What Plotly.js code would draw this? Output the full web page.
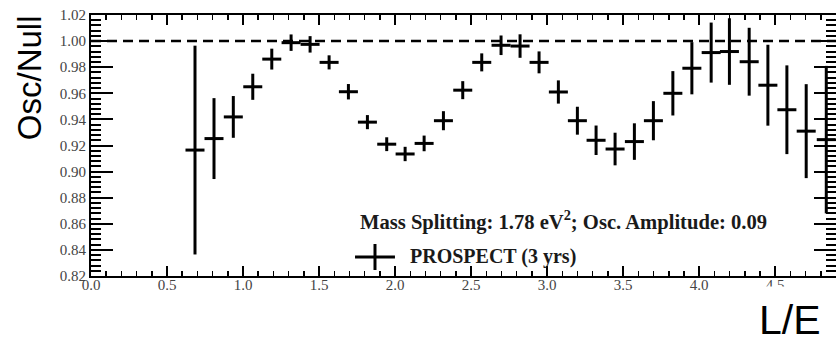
<!DOCTYPE html>
<html>
<head>
<meta charset="utf-8">
<script src="https://cdn.plot.ly/plotly-3.0.1.min.js"></script>
<style>
  html, body { margin: 0; padding: 0; background: #fff; }
  #chart { width: 836px; height: 338px; }
</style>
</head>
<body>
<div id="chart"></div>
<script>
// L/E bin centres
const lOverE = [0.684, 0.809, 0.936, 1.064, 1.189, 1.316, 1.441, 1.566, 1.693, 1.818,
                1.945, 2.066, 2.191, 2.318, 2.445, 2.570, 2.697, 2.822, 2.947, 3.074,
                3.199, 3.322, 3.447, 3.574, 3.699, 3.827, 3.952, 4.079, 4.199, 4.329,
                4.452, 4.577, 4.704, 4.836];
// Oscillated / null ratio in each bin
const ratio = [0.9165, 0.9253, 0.9419, 0.9650, 0.9862, 0.9988, 0.9975, 0.9837, 0.9612, 0.9379,
               0.9210, 0.9135, 0.9216, 0.9390, 0.9624, 0.9837, 0.9968, 0.9962, 0.9837, 0.9610,
               0.9390, 0.9240, 0.9173, 0.9230, 0.9390, 0.9600, 0.9792, 0.9912, 0.9920, 0.9842,
               0.9662, 0.9474, 0.9310, 0.9245];
// Statistical uncertainty on the ratio
const ratioErr = [0.080, 0.031, 0.016, 0.010, 0.008, 0.0063, 0.0063, 0.0054, 0.0059, 0.0054,
                  0.0053, 0.0055, 0.0060, 0.0073, 0.0069, 0.0069, 0.0075, 0.0090, 0.0084, 0.0089,
                  0.0107, 0.0113, 0.0125, 0.0140, 0.0150, 0.0170, 0.0200, 0.0230, 0.0255, 0.0260,
                  0.0310, 0.0340, 0.0360, 0.0565];
// Half bin width
const binHalfWidth = 0.0625;

const nullRatio = 1.0;
const yTicks = [0.82, 0.84, 0.86, 0.88, 0.90, 0.92, 0.94, 0.96, 0.98, 1.00, 1.02];
const xTicks = [0.0, 0.5, 1.0, 1.5, 2.0, 2.5, 3.0, 3.5, 4.0, 4.5];

const fitLabel = 'Mass Splitting: 1.78 eV<sup>2</sup>; Osc. Amplitude: 0.09';
const seriesLabel = 'PROSPECT (3 yrs)';

const serif = '"Liberation Serif", "Times New Roman", serif';
const sans = '"Liberation Sans", Arial, sans-serif';

const trace = {
  type: 'scatter',
  mode: 'markers',
  x: lOverE,
  y: ratio,
  marker: { size: 1, color: '#000' },
  error_y: { type: 'data', array: ratioErr, visible: true, color: '#000', thickness: 3, width: 0 },
  error_x: { type: 'data', array: lOverE.map(() => binHalfWidth), visible: true, color: '#000', thickness: 3, width: 0 },
  showlegend: false,
  hoverinfo: 'skip'
};

const layout = {
  width: 836,
  height: 338,
  margin: { l: 91, r: 0, t: 15, b: 62 },
  paper_bgcolor: '#fff',
  plot_bgcolor: '#fff',
  showlegend: false,
  xaxis: {
    range: [0, 4.9],
    tickvals: xTicks,
    ticktext: xTicks.map(v => v.toFixed(1)),
    ticks: 'inside',
    ticklen: 10,
    tickwidth: 1.5,
    tickcolor: '#000',
    ticklabelstandoff: -6,
    minor: { dtick: 0.1, ticks: 'inside', ticklen: 5, tickwidth: 1.5, tickcolor: '#000', showgrid: false },
    showline: true,
    linecolor: '#000',
    linewidth: 2,
    mirror: 'ticks',
    showgrid: false,
    zeroline: false,
    tickfont: { family: serif, size: 15, color: '#444' }
  },
  yaxis: {
    range: [0.82, 1.02],
    tickvals: yTicks,
    ticktext: yTicks.map(v => v.toFixed(2)),
    ticks: 'inside',
    ticklen: 22,
    tickwidth: 2,
    tickcolor: '#000',
    minor: { dtick: 0.004, ticks: 'inside', ticklen: 10, tickwidth: 2, tickcolor: '#000', showgrid: false },
    showline: true,
    linecolor: '#000',
    linewidth: 2,
    mirror: 'ticks',
    showgrid: false,
    zeroline: false,
    tickfont: { family: serif, size: 15, color: '#444' }
  },
  shapes: [
    // no-oscillation reference
    { type: 'line', xref: 'paper', yref: 'y', x0: 0, x1: 1, y0: nullRatio, y1: nullRatio,
      line: { color: '#000', width: 2.5, dash: '10px,6px' } },
    // legend glyph
    { type: 'line', xref: 'paper', yref: 'paper', x0: 0.3544, x1: 0.408, y0: 0.0728, y1: 0.0728,
      line: { color: '#000', width: 3 } },
    { type: 'line', xref: 'paper', yref: 'paper', x0: 0.3812, x1: 0.3812, y0: 0.023, y1: 0.1226,
      line: { color: '#000', width: 3 } }
  ],
  annotations: [
    { text: fitLabel, xref: 'paper', yref: 'paper', x: 0.6336, y: 0.212,
      xanchor: 'center', yanchor: 'middle', showarrow: false,
      font: { family: serif, size: 20.6, color: '#1a1a1a', weight: 'bold' } },
    { text: seriesLabel, xref: 'paper', yref: 'paper', x: 0.4255, y: 0.074,
      xanchor: 'left', yanchor: 'middle', showarrow: false,
      font: { family: serif, size: 20, color: '#1a1a1a', weight: 'bold' } },
    { text: 'Osc/Null', xref: 'paper', yref: 'paper', x: -0.083, y: 0.7586,
      xanchor: 'center', yanchor: 'middle', textangle: -90, showarrow: false,
      font: { family: sans, size: 33, color: '#000' } },
    { text: 'L/E', xref: 'paper', yref: 'paper', x: 0.938, y: -0.17,
      xanchor: 'center', yanchor: 'middle', showarrow: false,
      bgcolor: '#fff', borderpad: 10,
      font: { family: sans, size: 41, color: '#000' } }
  ]
};

Plotly.newPlot('chart', [trace], layout, { staticPlot: true, displayModeBar: false });
</script>
</body>
</html>
